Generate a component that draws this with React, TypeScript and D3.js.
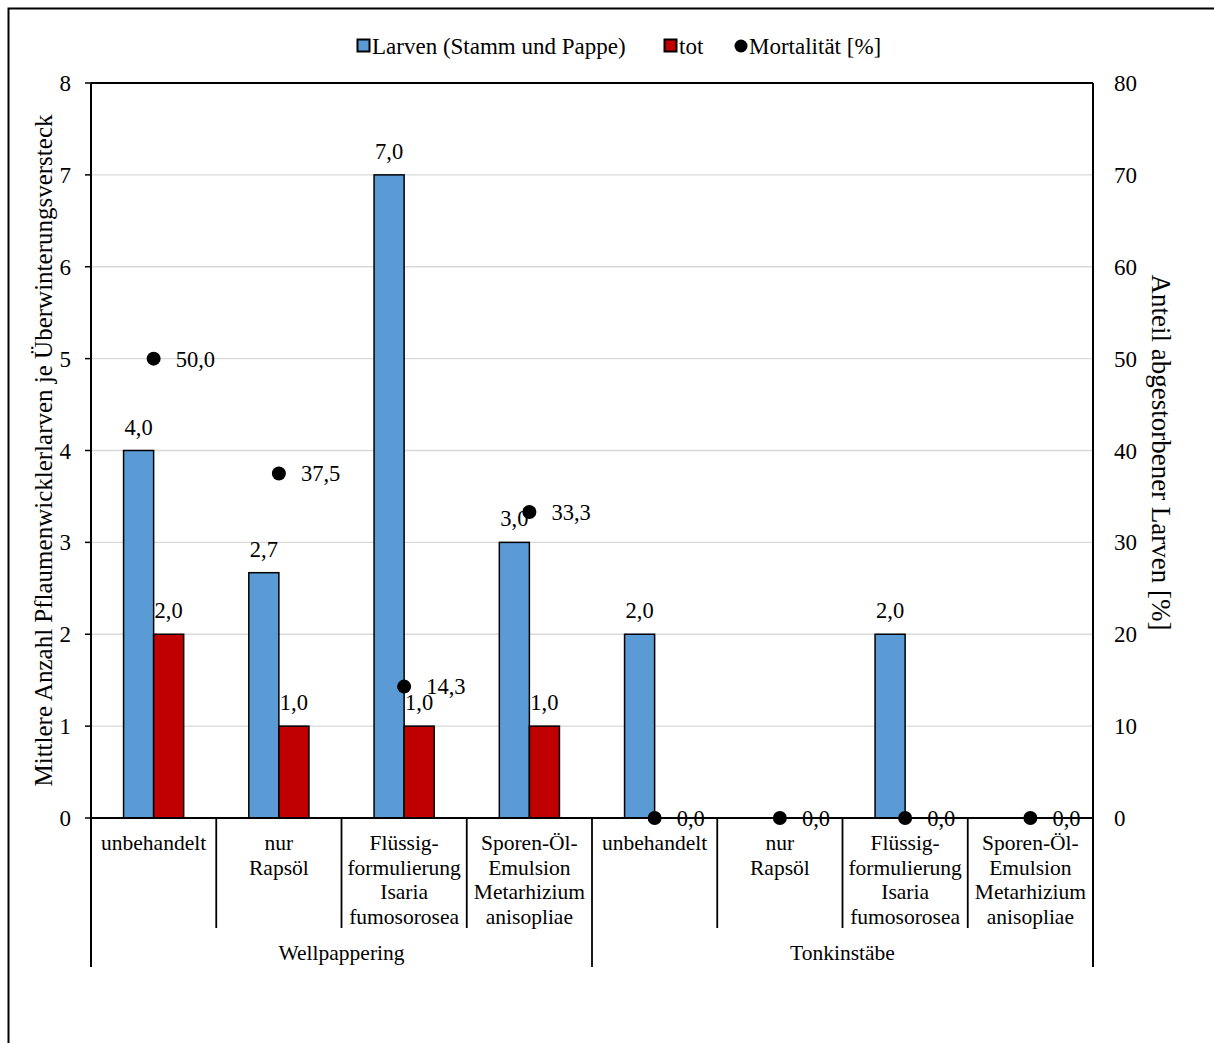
import React from 'react';
import * as d3 from 'd3';

// chart values
const groups = ['Wellpappering', 'Tonkinstäbe'];
const treatments = [
    ['unbehandelt'],
    ['nur', 'Rapsöl'],
    ['Flüssig-', 'formulierung', 'Isaria', 'fumosorosea'],
    ['Sporen-Öl-', 'Emulsion', 'Metarhizium', 'anisopliae'],
];
const larven = [4.0, 2.67, 7.0, 3.0, 2.0, 0, 2.0, 0];
const tot = [2.0, 1.0, 1.0, 1.0, 0, 0, 0, 0];
const mortalitaet = [50.0, 37.5, 14.3, 33.3, 0, 0, 0, 0];
const leftTicks = [0, 1, 2, 3, 4, 5, 6, 7, 8];
const rightTicks = [0, 10, 20, 30, 40, 50, 60, 70, 80];

const legendItems = [
    { label: 'Larven (Stamm und Pappe)', kind: 'rect', color: '#5B9BD5' },
    { label: 'tot', kind: 'rect', color: '#C00000' },
    { label: 'Mortalität [%]', kind: 'dot', color: '#000' },
];

const W = 1214;
const H = 1043;
const plot = { left: 91, right: 1093, top: 83, bottom: 818 };
const FONT = '"Liberation Serif", "Times New Roman", serif';

const de = d3.formatLocale({ decimal: ',', thousands: '.', grouping: [3], currency: ['', '€'] });
const fmt = de.format('.1f');

export default function App() {
    const cats = groups.flatMap((g, gi) => treatments.map((t, ti) => ({ group: g, lines: t, idx: gi * treatments.length + ti })));

    const x = d3.scaleBand<number>()
        .domain(cats.map(c => c.idx))
        .range([plot.left, plot.right])
        .paddingInner(0)
        .paddingOuter(0);
    const bw = x.bandwidth();
    const series = d3.scaleBand<string>()
        .domain(['larven', 'tot'])
        .range([-bw * 0.24, bw * 0.24]);
    const yL = d3.scaleLinear().domain([0, 8]).range([plot.bottom, plot.top]);
    const yR = d3.scaleLinear().domain([0, 80]).range([plot.bottom, plot.top]);

    const center = (i: number) => (x(i) as number) + bw / 2;
    const barData = [
        { key: 'larven', values: larven, color: '#5B9BD5' },
        { key: 'tot', values: tot, color: '#C00000' },
    ];

    const lvl1Bottom = 928;
    const lvl2Bottom = 967;
    const groupWidth = bw * treatments.length;

    // legend positions
    const legendX = [357, 664, 734];
    const legendY = 46;

    return (
        <svg width={W} height={H} style={{ position: 'absolute', left: 0, top: 0, background: '#fff' }}
            fontFamily={FONT}>
            <rect x={0} y={0} width={W} height={H} fill="#fff" />
            {/* outer chart border (cut off at right and bottom) */}
            <path d={`M8.5,${H + 2} V8.5 H${W + 2}`} fill="none" stroke="#000" strokeWidth={2} />

            {/* gridlines */}
            {leftTicks.filter(t => t > 0 && t < 8).map(t => (
                <line key={'g' + t} x1={plot.left} x2={plot.right} y1={yL(t)} y2={yL(t)}
                    stroke="#D9D9D9" strokeWidth={1.3} />
            ))}
            <line x1={plot.left} x2={plot.right} y1={yL(8)} y2={yL(8)} stroke="#000" strokeWidth={1.8} />

            {/* bars */}
            {barData.map(s => s.values.map((v, i) => v > 0 && (
                <rect key={s.key + i}
                    x={center(i) + (series(s.key) as number)}
                    y={yL(v)}
                    width={series.bandwidth()}
                    height={yL(0) - yL(v)}
                    fill={s.color} stroke="#000" strokeWidth={1.5} />
            )))}

            {/* axes */}
            <line x1={plot.left} x2={plot.left} y1={plot.top} y2={lvl2Bottom} stroke="#000" strokeWidth={2} />
            <line x1={plot.right} x2={plot.right} y1={plot.top} y2={lvl2Bottom} stroke="#000" strokeWidth={2} />
            <line x1={plot.left} x2={plot.right} y1={plot.bottom} y2={plot.bottom} stroke="#000" strokeWidth={2} />
            {leftTicks.map(t => (
                <g key={'lt' + t}>
                    <line x1={plot.left - 6} x2={plot.left} y1={yL(t)} y2={yL(t)} stroke="#000" strokeWidth={1.5} />
                    <text x={plot.left - 20} y={yL(t)} dy="0.35em" textAnchor="end" fontSize={23}>{t}</text>
                </g>
            ))}
            {rightTicks.map(t => (
                <text key={'rt' + t} x={plot.right + 21} y={yR(t)} dy="0.35em" textAnchor="start" fontSize={23}>{t}</text>
            ))}

            {/* category separators */}
            {cats.map(c => c.idx > 0 && (
                <line key={'sep' + c.idx} x1={x(c.idx)} x2={x(c.idx)} y1={plot.bottom}
                    y2={c.idx % treatments.length === 0 ? lvl2Bottom : lvl1Bottom}
                    stroke="#000" strokeWidth={1.8} />
            ))}
            {cats.map(c => (
                <text key={'cl' + c.idx} x={center(c.idx)} y={850} textAnchor="middle" fontSize={21.5}>
                    {c.lines.map((l, li) => (
                        <tspan key={li} x={center(c.idx)} dy={li === 0 ? 0 : 24.7}>{l}</tspan>
                    ))}
                </text>
            ))}
            {groups.map((g, gi) => (
                <text key={'grp' + g} x={plot.left + groupWidth * gi + groupWidth / 2} y={960}
                    textAnchor="middle" fontSize={21.5}>{g}</text>
            ))}

            {/* bar labels */}
            {barData.map(s => s.values.map((v, i) => v > 0 && (
                <text key={'bl' + s.key + i}
                    x={center(i) + (series(s.key) as number) + series.bandwidth() / 2}
                    y={yL(v) - 16} textAnchor="middle" fontSize={22.5}>{fmt(v)}</text>
            )))}

            {/* mortality points */}
            {mortalitaet.map((m, i) => (
                <g key={'m' + i}>
                    <circle cx={center(i)} cy={yR(m)} r={7} fill="#000" />
                    <text x={center(i) + 22} y={yR(m)} dy="0.35em" fontSize={22.5}>{fmt(m)}</text>
                </g>
            ))}

            {/* axis titles */}
            <text transform={`translate(43,${(plot.top + plot.bottom) / 2}) rotate(-90)`}
                textAnchor="middle" dy="0.35em" fontSize={25}>
                Mittlere Anzahl Pflaumenwicklerlarven je Überwinterungsversteck
            </text>
            <text transform={`translate(1161,${(plot.top + plot.bottom) / 2 + 2}) rotate(90)`}
                textAnchor="middle" dy="0.35em" fontSize={27}>
                Anteil abgestorbener Larven [%]
            </text>

            {/* legend */}
            {legendItems.map((it, i) => (
                <g key={'lg' + i} transform={`translate(${legendX[i]},${legendY})`}>
                    {it.kind === 'rect'
                        ? <rect x={0.5} y={-6.5} width={12} height={12} fill={it.color} stroke="#000" strokeWidth={2} />
                        : <circle cx={7} cy={0} r={6.5} fill={it.color} />}
                    <text x={15} y={0} dy="0.35em" fontSize={23}>{it.label}</text>
                </g>
            ))}
        </svg>
    );
}
